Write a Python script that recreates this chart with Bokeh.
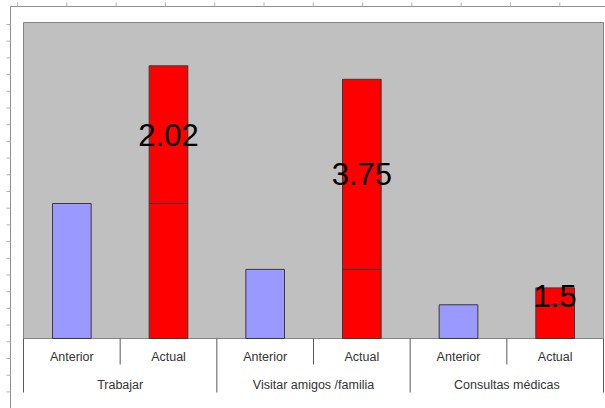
from bokeh.plotting import figure
from bokeh.models import Range1d, ColumnDataSource
from bokeh.core.properties import value
from bokeh.embed import file_html
from bokeh.resources import INLINE

# Data
groups = ["Trabajar", "Visitar amigos /familia", "Consultas médicas"]
periods = ["Anterior", "Actual"]
anterior = [10.0, 5.12, 2.5]
actual = [20.2, 19.2, 3.75]
ratio_labels = ["2.02", "3.75", "1.5"]

# Layout (pixels)
W, H = 605, 408
LEFT_PX = 23        # left edge of the plot area
RIGHT_PX = 603      # right edge of the plot area
TOP_PX = 22         # top edge of the plot area
BASE_PX = 338       # bar baseline / top of category band
UNIT_PX = 13.5      # pixels per value unit
n_slots = len(groups) * len(periods)
SLOT_PX = (RIGHT_PX - LEFT_PX) / n_slots


def xd(px):
    return (px - LEFT_PX) / SLOT_PX


def yd(px):
    return (BASE_PX - px) / UNIT_PX


p = figure(width=W, height=H,
           x_range=Range1d(xd(0), xd(W)), y_range=Range1d(yd(H), yd(0)),
           output_backend="svg", toolbar_location=None,
           x_axis_location=None, y_axis_location=None,
           min_border=0, min_border_left=0, min_border_right=0,
           min_border_top=0, min_border_bottom=0)
p.outline_line_color = None
p.grid.visible = False
p.background_fill_color = "white"
p.border_fill_color = "white"

FONT = value("Liberation Sans")

# Sheet frame lines with their small ticks
sheet_color = "#8E8E8E"
p.segment(x0=[xd(10), xd(10)], y0=[yd(6), yd(6)], x1=[xd(W), xd(10)], y1=[yd(6), yd(H)],
          line_color=sheet_color, line_width=1)
top_ticks = [17 + 49.3 * i for i in range(12)]
p.segment(x0=[xd(t) for t in top_ticks], y0=[yd(6)] * len(top_ticks),
          x1=[xd(t) for t in top_ticks], y1=[yd(2)] * len(top_ticks),
          line_color="#B0B0B0", line_width=1)
left_ticks = [24 + 16.7 * i for i in range(23)]
p.segment(x0=[xd(6)] * len(left_ticks), y0=[yd(t) for t in left_ticks],
          x1=[xd(10)] * len(left_ticks), y1=[yd(t) for t in left_ticks],
          line_color="#B0B0B0", line_width=1)

# Gray plot area
p.quad(left=[0], right=[n_slots], bottom=[0], top=[yd(TOP_PX)],
       fill_color="#C0C0C0", line_color="#858585", line_width=1)

# Bars
ant_x = [2 * i + 0.5 for i in range(len(groups))]
act_x = [2 * i + 1.5 for i in range(len(groups))]
BAR_W = 0.4

p.vbar(x=ant_x, top=anterior, bottom=0, width=BAR_W,
       fill_color="#9999FF", line_color="#3A3A3A", line_width=1)
# Actual bars stacked: part equal to the previous level, then the increase
p.vbar(x=act_x, top=anterior, bottom=0, width=BAR_W,
       fill_color="#FF0000", line_color="#3A3A3A", line_width=1)
p.vbar(x=act_x, top=actual, bottom=anterior, width=BAR_W,
       fill_color="#FF0000", line_color="#3A3A3A", line_width=1)

# Ratio labels centred on the increase segment
lab_src = ColumnDataSource(dict(
    x=act_x,
    y=[(a + b) / 2 for a, b in zip(anterior, actual)],
    text=ratio_labels,
))
p.text(x="x", y="y", text="text", source=lab_src,
       text_font=FONT, text_font_size="31px", text_color="black",
       text_align="center", text_baseline="middle")

# Category band: separators
sep_color = "#5A5A5A"
sub_sep = [2 * i + 1 for i in range(len(groups))]
p.segment(x0=sub_sep, y0=[0] * len(sub_sep), x1=sub_sep, y1=[yd(364)] * len(sub_sep),
          line_color=sep_color, line_width=1)
grp_sep = [2 * i for i in range(len(groups) + 1)]
p.segment(x0=grp_sep, y0=[0] * len(grp_sep), x1=grp_sep, y1=[yd(392)] * len(grp_sep),
          line_color=sep_color, line_width=1)

# Category band: labels
sub_x = [i + 0.5 for i in range(n_slots)]
sub_text = [periods[i % 2] for i in range(n_slots)]
p.text(x=sub_x, y=[yd(356)] * n_slots, text=sub_text,
       text_font=FONT, text_font_size="12.5px", text_color="#333333",
       text_align="center", text_baseline="middle")
grp_x = [2 * i + 1 for i in range(len(groups))]
p.text(x=grp_x, y=[yd(384)] * len(groups), text=groups,
       text_font=FONT, text_font_size="12.5px", text_color="#333333",
       text_align="center", text_baseline="middle")

open("out.html", "w").write(file_html(p, INLINE))
